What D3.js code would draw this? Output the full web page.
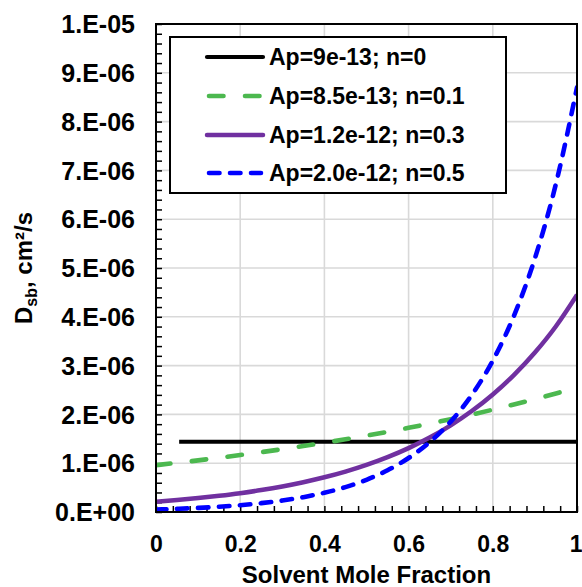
<!DOCTYPE html>
<html><head><meta charset="utf-8">
<script src="https://cdn.jsdelivr.net/npm/d3@7"></script>
<style>body{margin:0;background:#fff}svg{display:block}text{font-family:"Liberation Sans",Arial,sans-serif;font-weight:bold;fill:#000}</style>
</head><body><svg id="c" width="582" height="587"></svg>
<script>
// Data (D in units of 1e-6 cm²/s)
const xs = [0,0.05,0.1,0.15,0.2,0.25,0.3,0.35,0.4,0.45,0.5,0.55,0.6,0.65,0.7,0.75,0.8,0.85,0.9,0.95,1];
const seriesNames = ["Ap=9e-13; n=0","Ap=8.5e-13; n=0.1","Ap=1.2e-12; n=0.3","Ap=2.0e-12; n=0.5"];
const blackX = [0.055, 1];
const blackY = [1.44, 1.44];
const greenY = [0.96,1.008,1.058,1.111,1.167,1.226,1.287,1.351,1.419,1.49,1.565,1.643,1.725,1.812,1.902,1.997,2.097,2.203,2.313,2.429,2.55];
const purpleY = [0.21,0.245,0.285,0.332,0.386,0.45,0.524,0.611,0.711,0.828,0.965,1.124,1.309,1.525,1.776,2.069,2.409,2.806,3.268,3.807,4.45];
const blueY = [0.05,0.065,0.084,0.108,0.14,0.182,0.235,0.304,0.394,0.51,0.66,0.854,1.106,1.431,1.852,2.397,3.103,4.016,5.198,6.727,8.7];
const xTicks = [0,0.2,0.4,0.6,0.8,1];
const xTickLabels = ["0","0.2","0.4","0.6","0.8","1"];
const yTicks = [0,1e-6,2e-6,3e-6,4e-6,5e-6,6e-6,7e-6,8e-6,9e-6,1e-5];
const yTickLabels = ["0.E+00","1.E-06","2.E-06","3.E-06","4.E-06","5.E-06","6.E-06","7.E-06","8.E-06","9.E-06","1.E-05"];

const L=156,R=577,T=24,B=512;
const svg=d3.select("#c");
const x=d3.scaleLinear().domain([0,1]).range([L,R]);
const y=d3.scaleLinear().domain([0,1e-5]).range([B,T]);

// grid
const g=svg.append("g");
g.selectAll(".gx").data(xTicks.slice(1,-1)).join("line")
 .attr("x1",d=>x(d)).attr("x2",d=>x(d)).attr("y1",T).attr("y2",B)
 .attr("stroke","#d9d9d9").attr("stroke-width",1.6);
g.selectAll(".gy").data(yTicks.slice(1,-1)).join("line")
 .attr("x1",L).attr("x2",R).attr("y1",d=>y(d)).attr("y2",d=>y(d))
 .attr("stroke","#d9d9d9").attr("stroke-width",1.6);

// minor ticks (inward)
const xMinor=d3.range(0,1.0001,0.04);
const yMinor=d3.range(0,1.00001e-5,0.2e-6);
svg.append("g").attr("transform",`translate(0,${B})`)
 .call(d3.axisBottom(x).tickValues(xMinor).tickSize(-6).tickFormat(""))
 .call(a=>a.select(".domain").remove())
 .call(a=>a.selectAll("line").attr("stroke","#000").attr("stroke-width",1.5));
svg.append("g").attr("transform",`translate(${L},0)`)
 .call(d3.axisLeft(y).tickValues(yMinor).tickSize(-6).tickFormat(""))
 .call(a=>a.select(".domain").remove())
 .call(a=>a.selectAll("line").attr("stroke","#000").attr("stroke-width",1.5));

// tick labels
svg.append("g").attr("transform",`translate(0,${B})`)
 .call(d3.axisBottom(x).tickValues(xTicks).tickSize(0).tickPadding(0).tickFormat((d,i)=>xTickLabels[i]))
 .call(a=>a.select(".domain").remove())
 .call(a=>a.selectAll("text").attr("y",40).attr("dy",null).style("font-size","23px").style("font-family",'"Liberation Sans",Arial,sans-serif').style("font-weight","bold").attr("fill","#000"))
 .call(a=>a.selectAll("text").filter(d=>d===1).attr("text-anchor","end").attr("x",582-R));
svg.append("g").attr("transform",`translate(135,0)`)
 .call(d3.axisLeft(y).tickValues(yTicks).tickSize(0).tickPadding(0).tickFormat((d,i)=>yTickLabels[i]))
 .call(a=>a.select(".domain").remove())
 .call(a=>a.selectAll("text").attr("x",0).attr("dy","0.35em").style("font-size","25px").style("font-family",'"Liberation Sans",Arial,sans-serif').style("font-weight","bold").attr("fill","#000"));

// series
const line=d3.line().x(d=>x(d[0])).y(d=>y(d[1]*1e-6)).curve(d3.curveMonotoneX);
svg.append("clipPath").attr("id","pc").append("rect").attr("x",L).attr("y",T-5).attr("width",R-L).attr("height",B-T+5);
const series=[
 {pts:blackX.map((v,i)=>[v,blackY[i]]),color:"#000000",w:4.2,dash:null},
 {pts:xs.map((v,i)=>[v,greenY[i]]),color:"#4cb84f",w:4.6,dash:"14.5,21.5"},
 {pts:xs.map((v,i)=>[v,purpleY[i]]),color:"#7030a0",w:4.5,dash:null},
 {pts:xs.map((v,i)=>[v,blueY[i]]),color:"#0000ff",w:4.6,dash:"10.5,10.5"}
];
const sg=svg.append("g").attr("clip-path","url(#pc)");
series.forEach(s=>{
 sg.append("path").attr("d",line(s.pts)).attr("fill","none").attr("stroke",s.color)
  .attr("stroke-width",s.w).attr("stroke-linecap",s.dash?"round":"butt")
  .attr("stroke-dasharray",s.dash);
});

// frame
svg.append("rect").attr("x",L).attr("y",T).attr("width",R-L).attr("height",B-T)
 .attr("fill","none").attr("stroke","#000").attr("stroke-width",2);

// legend
const lg=svg.append("g");
lg.append("rect").attr("x",170).attr("y",37).attr("width",336).attr("height",156)
 .attr("fill","#fff").attr("stroke","#000").attr("stroke-width",2);
const rowsY=[57,96,135,173];
series.forEach((s,i)=>{
 lg.append("line").attr("x1",s.dash?209:207).attr("x2",s.dash?261:263).attr("y1",rowsY[i]).attr("y2",rowsY[i])
  .attr("stroke",s.color).attr("stroke-width",s.w).attr("stroke-linecap","round")
  .attr("stroke-dasharray",s.dash);
 lg.append("text").attr("x",269).attr("y",rowsY[i]).attr("dy","0.36em").style("font-size","23px").text(seriesNames[i]);
});

// axis titles
svg.append("text").attr("x",(L+R)/2).attr("y",583).attr("text-anchor","middle").style("font-size","24px").text("Solvent Mole Fraction");
const yt=svg.append("text").attr("transform","translate(32,268) rotate(-90)").attr("text-anchor","middle").style("font-size","24px");
yt.append("tspan").text("D");
yt.append("tspan").attr("dy",5).style("font-size","16px").text("sb");
yt.append("tspan").attr("dy",-5).text(", cm²/s");
</script></body></html>
